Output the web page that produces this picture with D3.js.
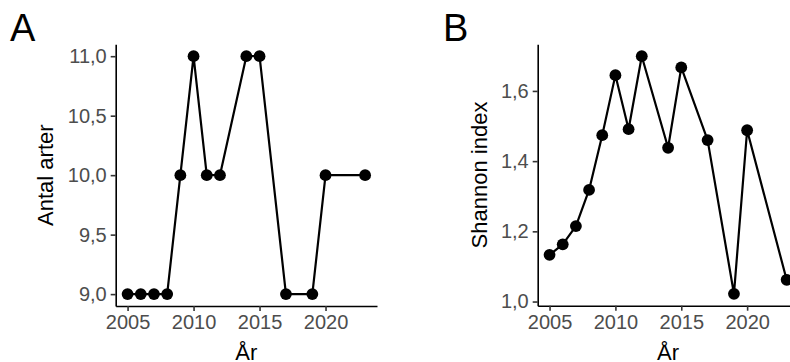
<!DOCTYPE html>
<html>
<head>
<meta charset="utf-8">
<script src="https://cdn.jsdelivr.net/npm/d3@7"></script>
<style>
  html, body { margin: 0; padding: 0; background: #fff; }
  svg { display: block; }
  text { font-family: "Liberation Sans", Arial, sans-serif; }
</style>
</head>
<body>
<svg id="chart" width="790" height="362"></svg>
<script>
// Survey years
const years = [2005, 2006, 2007, 2008, 2009, 2010, 2011, 2012, 2014, 2015, 2017, 2019, 2020, 2023];
// Number of species per year
const speciesCount = [9, 9, 9, 9, 10, 11, 10, 10, 11, 11, 9, 9, 10, 10];
// Shannon diversity index per year
const shannon = [1.133, 1.163, 1.215, 1.318, 1.474, 1.645, 1.491, 1.699, 1.438, 1.667, 1.460, 1.022, 1.488, 1.062];

const xTicks = [2005, 2010, 2015, 2020];
const ticksA = [9.0, 9.5, 10.0, 10.5, 11.0];
const ticksB = [1.0, 1.2, 1.4, 1.6];

const svg = d3.select("#chart");
const fmtComma = d => d.toFixed(1).replace(".", ",");

// Expand a numeric extent by 5% on both sides
function padded(values) {
  const [lo, hi] = d3.extent(values);
  const p = (hi - lo) * 0.05;
  return [lo - p, hi + p];
}

function panel(opts) {
  const { left, right, top, bottom, values, yTicks, yTitle, titleOffset, tag, tagX } = opts;
  const g = svg.append("g");

  const x = d3.scaleLinear().domain(padded(years)).range([left, right]);
  const y = d3.scaleLinear().domain(padded(values)).range([bottom, top]);

  // x axis
  const xa = g.append("g")
    .attr("transform", `translate(0,${bottom})`)
    .call(d3.axisBottom(x).tickValues(xTicks).tickFormat(d3.format("d")).tickSize(5).tickSizeOuter(0).tickPadding(4));
  // y axis
  const ya = g.append("g")
    .attr("transform", `translate(${left},0)`)
    .call(d3.axisLeft(y).tickValues(yTicks).tickFormat(fmtComma).tickSize(5).tickSizeOuter(0).tickPadding(4));

  [xa, ya].forEach(a => {
    a.select(".domain").attr("stroke", "#000").attr("stroke-width", 1.6);
    a.selectAll(".tick line").attr("stroke", "#333").attr("stroke-width", 1.6);
    a.selectAll(".tick text").attr("fill", "#4D4D4D").style("font-size", "20px")
      .attr("font-family", null);
  });
  xa.selectAll(".tick text").attr("dy", "0.71em");

  const pts = years.map((yr, i) => [yr, values[i]]);

  g.append("path")
    .datum(pts)
    .attr("fill", "none")
    .attr("stroke", "#000")
    .attr("stroke-width", 2.2)
    .attr("stroke-linejoin", "round")
    .attr("d", d3.line().x(d => x(d[0])).y(d => y(d[1])));

  g.selectAll("circle.pt")
    .data(pts)
    .join("circle")
    .attr("class", "pt")
    .attr("cx", d => x(d[0]))
    .attr("cy", d => y(d[1]))
    .attr("r", 5.9)
    .attr("fill", "#000");

  // axis titles
  g.append("text")
    .attr("x", (left + right) / 2)
    .attr("y", 360)
    .attr("text-anchor", "middle")
    .style("font-size", "22px")
    .attr("fill", "#000")
    .text("År");

  g.append("text")
    .attr("transform", `translate(${left - titleOffset},${(top + bottom) / 2}) rotate(-90)`)
    .attr("text-anchor", "middle")
    .style("font-size", "22px")
    .attr("fill", "#000")
    .text(yTitle);

  // panel tag
  g.append("text")
    .attr("x", tagX)
    .attr("y", 41)
    .style("font-size", "38px")
    .attr("fill", "#000")
    .text(tag);
}

panel({ left: 115.7, right: 377, top: 44.3, bottom: 306, values: speciesCount, yTicks: ticksA, yTitle: "Antal arter", titleOffset: 62.4, tag: "A", tagX: 10 });
panel({ left: 537.7, right: 798.5, top: 44.3, bottom: 305.7, values: shannon, yTicks: ticksB, yTitle: "Shannon index", titleOffset: 50.4, tag: "B", tagX: 443 });
</script>
</body>
</html>
